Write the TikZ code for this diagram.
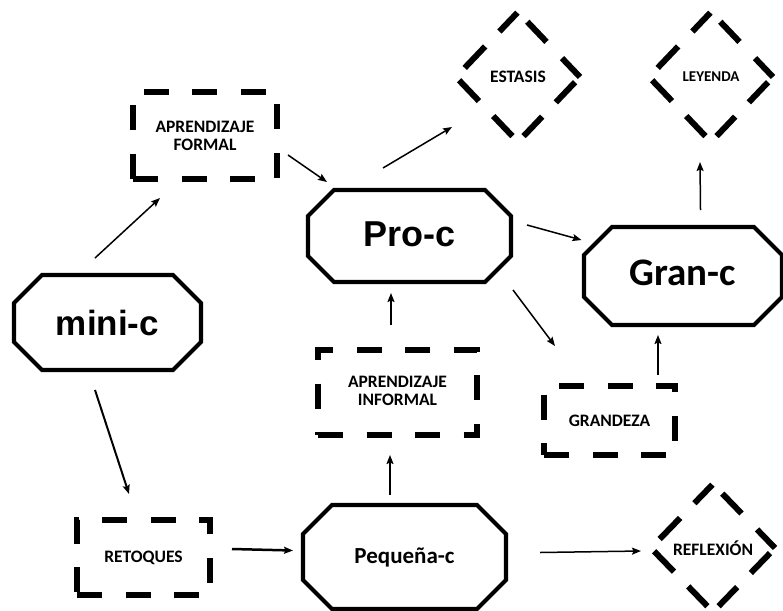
\documentclass[tikz,border=0pt]{standalone}
\usepackage{fontspec}
\setmainfont{Carlito}
\newfontfamily\arialfont{Liberation Sans}
\usetikzlibrary{arrows.meta,calc}
\newcommand\lblfont{\fontsize{17.5}{18}\selectfont\bfseries}
\newcommand\octpath[2]{\draw[octo] ([xshift=#2]#1.north west) -- ([xshift=-#2]#1.north east) -- ([yshift=-#2]#1.north east) -- ([yshift=#2]#1.south east) -- ([xshift=-#2]#1.south east) -- ([xshift=#2]#1.south west) -- ([yshift=#2]#1.south west) -- ([yshift=-#2]#1.north west) -- cycle;}
\newcommand\dseg[4]{\draw[dia] ($(#1)!#3!(#2)$) -- ($(#1)!#4!(#2)$);}
\newcommand\diapath[1]{%
  \dseg{#1.north}{#1.east}{0.15}{0.46}\dseg{#1.north}{#1.east}{0.71}{1.0}%
  \dseg{#1.east}{#1.south}{0.08}{0.39}\dseg{#1.east}{#1.south}{0.61}{0.91}%
  \dseg{#1.south}{#1.west}{0.09}{0.40}\dseg{#1.south}{#1.west}{0.63}{0.95}%
  \dseg{#1.west}{#1.north}{0.14}{0.47}\dseg{#1.west}{#1.north}{0.70}{0.99}}
\tikzset{
  octo/.style={line width=4.2pt, line join=miter},
  octnode/.style={rectangle, draw=none, inner sep=0pt, outer sep=0pt},
  dbox/.style={rectangle, draw, line width=6.5pt, line join=miter, dash pattern=on 25pt off 23.5pt, inner sep=0pt, outer sep=0pt, align=center, font=\lblfont},
  dianode/.style={rectangle, draw=none, inner sep=0pt, outer sep=0pt, align=center, font=\lblfont},
  dia/.style={line width=6pt},
  arr/.style={line width=1.5pt, -{Stealth[length=9pt,width=7pt,inset=1.5pt]}}
}
\begin{document}
\begin{tikzpicture}[x=1pt,y=-1pt]
\useasboundingbox (0,0) rectangle (783,610);
% octagon nodes
\node[octnode, minimum width=187pt, minimum height=95pt, font=\arialfont\bfseries\fontsize{35}{40}\selectfont] (minic) at (107.5,322.5) {mini-c};
\octpath{minic}{28}
\node[octnode, minimum width=203pt, minimum height=92pt, font=\arialfont\bfseries\fontsize{36}{40}\selectfont] (proc) at (409.5,236) {\raisebox{4pt}{Pro-c}};
\octpath{proc}{26}
\node[octnode, minimum width=198pt, minimum height=98pt, font=\bfseries\fontsize{39}{42}\selectfont] (granc) at (683,276) {\raisebox{6pt}{Gran-c}};
\octpath{granc}{28}
\node[octnode, minimum width=203pt, minimum height=104pt, font=\bfseries\fontsize{23}{26}\selectfont] (pequena) at (404.5,557) {\raisebox{3pt}{Pequeña-c}};
\octpath{pequena}{29}
% dashed boxes
\node[dbox, minimum width=144pt, minimum height=87pt] (aprf) at (205,135.5) {APRENDIZAJE\\FORMAL};
\node[dbox, minimum width=159pt, minimum height=85pt] (apri) at (397.5,392.5) {\raisebox{8pt}{\begin{tabular}{@{}c@{}}APRENDIZAJE\\INFORMAL\end{tabular}}};
\node[dbox, minimum width=131pt, minimum height=69pt] (grandeza) at (609.5,420.5) {GRANDEZA};
\node[dbox, minimum width=133pt, minimum height=75pt] (retoques) at (143.5,557.5) {\raisebox{-6pt}{RETOQUES}};
% diamonds
\node[dianode, minimum width=124pt, minimum height=130pt] (estasis) at (518,77) {ESTASIS};
\diapath{estasis}
\node[dianode, minimum width=124pt, minimum height=130pt, font=\bfseries\fontsize{15}{17}\selectfont] (leyenda) at (711,77) {LEYENDA};
\diapath{leyenda}
\node[dianode, minimum width=124pt, minimum height=128pt] (reflexion) at (713,548) {\raisebox{-6pt}{REFLEXIÓN}};
\diapath{reflexion}
% connectors
\draw[arr] ([shift={(-12.5,-64.5)}]minic.center) -- ([shift={(-45,62.5)}]aprf.center);
\draw[arr] ([shift={(83,19.5)}]aprf.center) -- ([shift={(-82.5,-54)}]proc.center);
\draw[arr] ([shift={(-26.5,-68)}]proc.center) -- ([shift={(-66,50)}]estasis.center);
\draw[arr] ([shift={(117.5,-11)}]proc.center) -- ([shift={(-101.5,-36)}]granc.center);
\draw[arr] ([shift={(103.5,54)}]proc.center) -- ([shift={(-54.5,-74.5)}]grandeza.center);
\draw[arr] ([shift={(-6.5,-67.5)}]apri.center) -- ([shift={(-18.5,57)}]proc.center);
\draw[arr] ([shift={(-14.5,-62.5)}]pequena.center) -- ([shift={(-7.5,62.5)}]apri.center);
\draw[arr] ([shift={(48.5,-45.5)}]grandeza.center) -- ([shift={(-25,59)}]granc.center);
\draw[arr] ([shift={(17.5,-66)}]granc.center) -- ([shift={(-11,85)}]leyenda.center);
\draw[arr, line width=2pt] ([shift={(-12.5,67.5)}]minic.center) -- ([shift={(-14.5,-63.5)}]retoques.center);
\draw[arr, line width=2.5pt] ([shift={(88.5,-8.5)}]retoques.center) -- ([shift={(-111.5,-6.5)}]pequena.center);
\draw[arr] ([shift={(135.5,-4.5)}]pequena.center) -- ([shift={(-72,3)}]reflexion.center);
\end{tikzpicture}
\end{document}
